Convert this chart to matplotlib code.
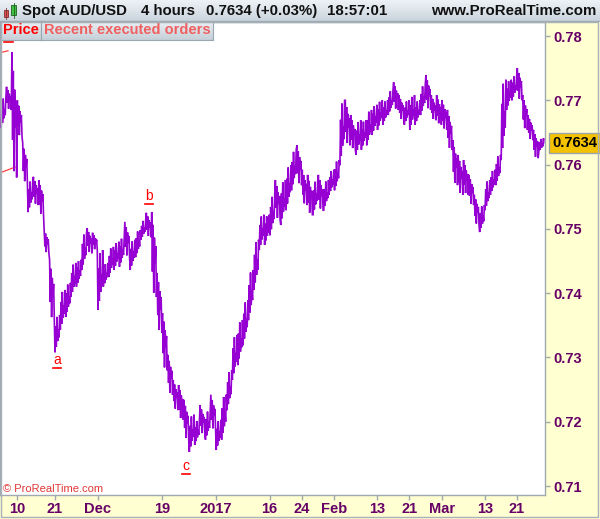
import numpy as np
import matplotlib
matplotlib.use("Agg")
import matplotlib.pyplot as plt
from matplotlib.patches import Rectangle
from matplotlib.colors import LinearSegmentedColormap

plt.rcParams['font.family'] = ['Liberation Sans', 'DejaVu Sans']

# ---------------- data ----------------
start_date = '2016-11-07'
# daily high / low of AUD/USD (trading-day index 0..100)
day_high = [0.7705, 0.7721, 0.7775, 0.7700, 0.7634, 0.7576, 0.7581, 0.7576, 0.7498, 0.7452,
            0.7366, 0.7405, 0.7416, 0.7447, 0.7452, 0.7494, 0.7501, 0.7494, 0.7467, 0.7447,
            0.7472, 0.7480, 0.7487, 0.7511, 0.7483, 0.7498, 0.7514, 0.7525, 0.7526, 0.7431,
            0.7369, 0.7304, 0.7265, 0.7257, 0.7234, 0.7211, 0.7203, 0.7226, 0.7218, 0.7242,
            0.7203, 0.7242, 0.7280, 0.7335, 0.7358, 0.7389, 0.7436, 0.7483, 0.7522, 0.7522,
            0.7553, 0.7576, 0.7576, 0.7599, 0.7623, 0.7630, 0.7592, 0.7584, 0.7576, 0.7584,
            0.7576, 0.7592, 0.7607, 0.7700, 0.7700, 0.7677, 0.7669, 0.7669, 0.7685, 0.7693,
            0.7700, 0.7700, 0.7716, 0.7728, 0.7708, 0.7700, 0.7708, 0.7700, 0.7724, 0.7739,
            0.7708, 0.7708, 0.7700, 0.7685, 0.7638, 0.7615, 0.7607, 0.7584, 0.7553, 0.7537,
            0.7576, 0.7592, 0.7615, 0.7732, 0.7732, 0.7739, 0.7750, 0.7708, 0.7677, 0.7654,
            0.7641]
day_low = [0.7658, 0.7685, 0.7580, 0.7643, 0.7571, 0.7526, 0.7537, 0.7521, 0.7462, 0.7358,
           0.7308, 0.7343, 0.7363, 0.7394, 0.7410, 0.7436, 0.7462, 0.7467, 0.7374, 0.7410,
           0.7425, 0.7436, 0.7441, 0.7456, 0.7436, 0.7456, 0.7483, 0.7487, 0.7394, 0.7338,
           0.7280, 0.7242, 0.7218, 0.7203, 0.7172, 0.7153, 0.7164, 0.7180, 0.7172, 0.7187,
           0.7156, 0.7172, 0.7218, 0.7265, 0.7288, 0.7319, 0.7358, 0.7405, 0.7467, 0.7475,
           0.7490, 0.7514, 0.7506, 0.7529, 0.7560, 0.7568, 0.7537, 0.7522, 0.7522, 0.7529,
           0.7529, 0.7553, 0.7560, 0.7599, 0.7630, 0.7623, 0.7615, 0.7623, 0.7630, 0.7646,
           0.7654, 0.7662, 0.7677, 0.7685, 0.7669, 0.7662, 0.7654, 0.7662, 0.7677, 0.7685,
           0.7669, 0.7662, 0.7654, 0.7623, 0.7568, 0.7553, 0.7553, 0.7537, 0.7506, 0.7495,
           0.7529, 0.7553, 0.7568, 0.7607, 0.7685, 0.7700, 0.7700, 0.7654, 0.7638, 0.7610,
           0.7620]
last_price = 0.7634

tick_dates = ['2016-11-10', '2016-11-21', '2016-12-01', '2016-12-19', '2017-01-02', '2017-01-16',
              '2017-01-24', '2017-02-01', '2017-02-13', '2017-02-21', '2017-03-01', '2017-03-13',
              '2017-03-21']
tick_labels = ['10', '21', 'Dec', '19', '2017', '16', '24', 'Feb', '13', '21', 'Mar', '13', '21']
y_ticks = [0.71, 0.72, 0.73, 0.74, 0.75, 0.76, 0.77, 0.78]

# wave labels (text, day index, price of underline)
wave_text = ['', 'a', 'b', 'c']
wave_day = [1.42, 10.44, 27.55, 34.4]
wave_price = [0.77907, 0.72836, 0.75387, 0.71187]

# recent executed order lines
order_x = [[-0.2, 1.33], [-0.2, 2.63]]
order_y = [[0.7774, 0.7777], [0.7587, 0.7596]]

# ---------------- figure ----------------
W, H = 600, 519
fig = plt.figure(figsize=(W / 100, H / 100), dpi=100)
fig.patch.set_facecolor('#FFFFD2')


def fx(px):
    return px / W


def fy(py):
    return 1 - py / H


# outer frame
fig.patches.append(Rectangle((fx(0.5), fy(517)), fx(597.5), fy(22) - fy(517), transform=fig.transFigure,
                             fill=False, edgecolor='#A8B0B8', linewidth=1.0, zorder=0))

ax = fig.add_axes([fx(0), fy(495), fx(545), fy(22) - fy(495)])
ax.set_facecolor('white')

hi = np.array(day_high)
lo = np.array(day_low)
n = len(hi)
mid = (hi + lo) / 2
# intraday path through each day's range (rising or falling sawtooth of 4-hour bars)
path_frac = [0.0, 0.7, 0.15, 0.95, 0.3, 0.6, 0.4, 1.0]
xs, ys = [], []
for i in range(n):
    nxt = mid[i + 1] if i + 1 < n else last_price
    fr = path_frac if nxt >= mid[i] else [1 - f for f in path_frac]
    m = len(fr)
    for k, f in enumerate(fr):
        xs.append(i + (k + 0.5) / m)
        ys.append(lo[i] + f * (hi[i] - lo[i]))
xs.append(n - 0.05)
ys.append(last_price)
ax.plot(xs, ys, color='#9600D2', linewidth=1.2, solid_joinstyle='miter', zorder=3)

for ox, oy in zip(order_x, order_y):
    ax.plot(ox, oy, color='#FF4040', linewidth=0.9, zorder=2)

for t, d, p in zip(wave_text, wave_day, wave_price):
    ax.plot([d - 0.75, d + 0.75], [p, p], color='#FF0000', linewidth=1.2, zorder=4)
    if t:
        ax.annotate(t, (d, p), xytext=(0, 1.0), textcoords='offset points', ha='center', va='bottom',
                    color='#FF0000', fontsize=10)

# scales
ax.set_xlim(-0.16, 101.21)
ax.set_ylim(0.70860, 0.78218)

tick_pos = [np.busday_count(start_date, d) for d in tick_dates]
ax.set_xticks(tick_pos)
ax.set_xticklabels(tick_labels)
ax.set_yticks(y_ticks)
ax.set_yticklabels([f'{v:.2f}' for v in y_ticks])
ax.yaxis.tick_right()
ax.tick_params(axis='both', colors='#A0A8B0', length=3.6, width=1)
ax.tick_params(axis='y', pad=2.2, labelsize=10.5, labelcolor='#660066')
ax.tick_params(axis='x', pad=1.5, labelsize=10.5, labelcolor='#660066')
for lab in ax.get_xticklabels() + ax.get_yticklabels():
    lab.set_fontweight('bold')
for s in ax.spines.values():
    s.set_color('#A0A8B0')
    s.set_linewidth(1)

# last price box
ax.annotate(f'{last_price:.4f}', xy=(1.0, last_price), xycoords=('axes fraction', 'data'),
            xytext=(5, 0), textcoords='offset points', ha='left', va='center',
            fontsize=10.5, fontweight='bold', color='black', annotation_clip=False,
            bbox=dict(boxstyle='square,pad=0.2', facecolor='#F5C200', edgecolor='#9AA4AE', linewidth=1))

ax.text(3 / 545, 1 - (489 - 22) / 473, '© ProRealTime.com', transform=ax.transAxes, ha='left', va='center',
        fontsize=8, color='#E03838')

# header gradient
grad_cmap = LinearSegmentedColormap.from_list('hdr', ['#EEF2F6', '#C9D3DC'])
hax = fig.add_axes([0, fy(22), 1, fy(0) - fy(22)])
hax.imshow(np.linspace(0, 1, 32).reshape(-1, 1), aspect='auto', cmap=grad_cmap, extent=[0, W, 22, 0])
hax.set_xlim(0, W)
hax.set_ylim(22, 0)
hax.axis('off')
hax.plot([0, W], [21.5, 21.5], color='#A0AAB4', linewidth=1)
# candle icon
hax.add_patch(Rectangle((4, 10), 4, 7, facecolor='#E05050', edgecolor='#803030', linewidth=0.6))
hax.plot([6, 6], [8, 19], color='#803030', linewidth=0.6, zorder=1)
hax.add_patch(Rectangle((11, 5), 5, 10, facecolor='#40C040', edgecolor='#206020', linewidth=0.6))
hax.plot([13.5, 13.5], [3, 18], color='#206020', linewidth=0.6, zorder=1)
hdr_items = [('Spot AUD/USD', 22), ('4 hours', 141), ('0.7634 (+0.03%)', 206), ('18:57:01', 327)]
for s, x in hdr_items:
    hax.text(x, 11.5, s, ha='left', va='center', fontsize=10.8, fontweight='bold', color='#111111')
hax.text(596, 11.5, 'www.ProRealTime.com', ha='right', va='center', fontsize=10.8, fontweight='bold',
         color='#111111')

# tabs
tab_cmap = LinearSegmentedColormap.from_list('tab', ['#EAF0F4', '#C6D0D8'])
for (x0, x1, label, col) in [(0, 41, 'Price', '#FF0000'), (41, 213, 'Recent executed orders', '#F06060')]:
    tax = fig.add_axes([fx(x0), fy(40), fx(x1 - x0), fy(22) - fy(40)])
    tax.imshow(np.linspace(0, 1, 16).reshape(-1, 1), aspect='auto', cmap=tab_cmap, extent=[0, 1, 1, 0])
    tax.set_xlim(0, 1)
    tax.set_ylim(1, 0)
    tax.set_xticks([])
    tax.set_yticks([])
    for s in tax.spines.values():
        s.set_color('#9AA6B0')
    tax.text(0.5, 0.55, label, ha='center', va='center', fontsize=10.5, fontweight='bold', color=col,
             transform=tax.transAxes)

fig.savefig('out.png', dpi=100, facecolor=fig.get_facecolor())
